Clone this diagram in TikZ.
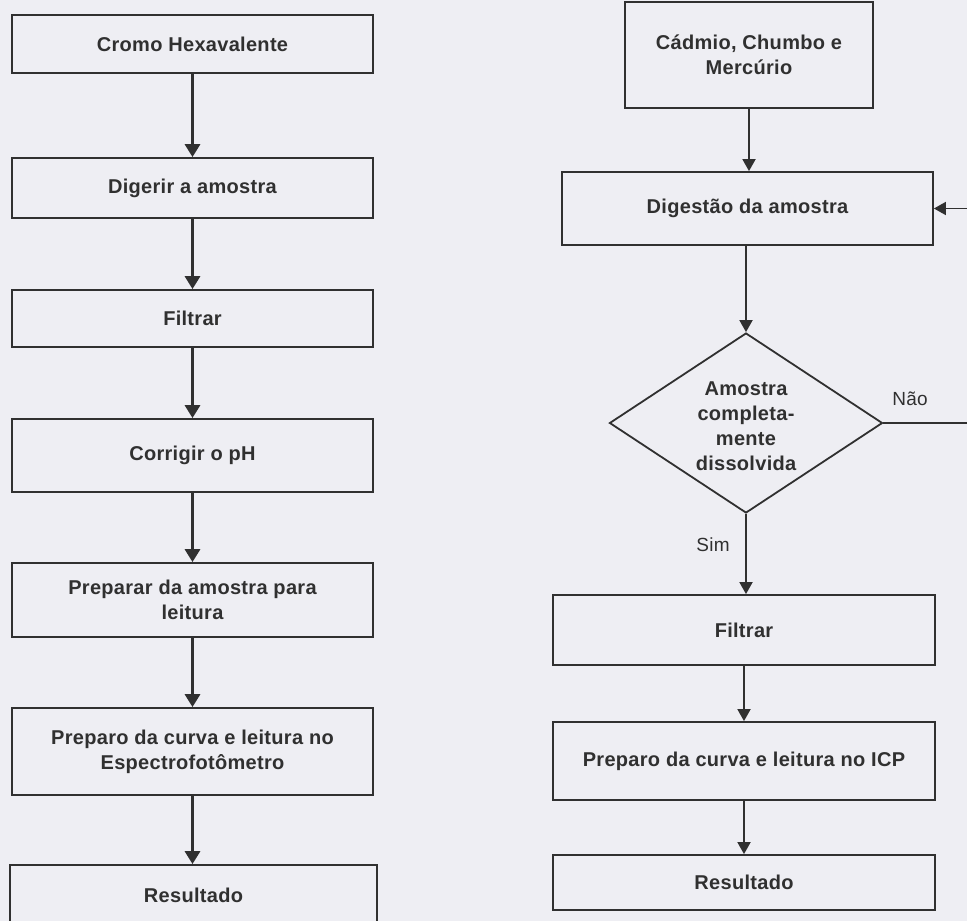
\documentclass[tikz,border=0pt]{standalone}
\usepackage{fontspec}
\setmainfont{Liberation Sans}[LetterSpace=1.5]
\usetikzlibrary{arrows.meta,shapes.geometric}
\definecolor{bg}{HTML}{EEEEF3}
\definecolor{ink}{HTML}{303030}
\begin{document}
\begin{tikzpicture}[x=1pt,y=-1pt,
  box/.style={draw=ink, line width=1.8pt, rectangle, inner sep=0pt, align=center,
    text=ink, font=\bfseries\fontsize{20}{25}\selectfont},
  thickarrow/.style={draw=ink, line width=3.5pt, -{Triangle[width=15pt,length=13pt]}},
  thinarrow/.style={draw=ink, line width=1.8pt, -{Triangle[width=13pt,length=12pt]}},
  lbl/.style={text=ink, inner sep=0pt, font=\fontsize{19}{25}\selectfont}]
\useasboundingbox (0,0) rectangle (967,921);
\fill[bg] (0,0) rectangle (967,921);
\clip (0,0) rectangle (967,921);

% left column
\node[box, minimum width=361pt, minimum height=58pt] (L1) at (192.5,44) {Cromo Hexavalente};
\node[box, minimum width=361pt, minimum height=60pt] (L2) at (192.5,188) {Digerir a amostra};
\node[box, minimum width=361pt, minimum height=57pt] (L3) at (192.5,318.5) {Filtrar};
\node[box, minimum width=361pt, minimum height=73pt] (L4) at (192.5,455.5) {Corrigir o pH};
\node[box, minimum width=361pt, minimum height=74pt] (L5) at (192.5,600) {Preparar da amostra para\\leitura};
\node[box, minimum width=361pt, minimum height=87pt] (L6) at (192.5,751.5) {Preparo da curva e leitura no\\Espectrofotômetro};
\node[box, minimum width=367pt, minimum height=60pt] (L7) at (193.5,895) {Resultado};

\draw[thickarrow] (L1.south) -- (L2.north);
\draw[thickarrow] (L2.south) -- (L3.north);
\draw[thickarrow] (L3.south) -- (L4.north);
\draw[thickarrow] (L4.south) -- (L5.north);
\draw[thickarrow] (L5.south) -- (L6.north);
\draw[thickarrow] (L6.south) -- (L6.south |- L7.north);

% right column
\node[box, minimum width=248pt, minimum height=106pt] (R1) at (749,55) {Cádmio, Chumbo e\\Mercúrio};
\node[box, minimum width=371pt, minimum height=73pt] (R2) at (747.5,208.5) {Digestão da amostra};
\node[diamond, draw=ink, line width=1.8pt, inner sep=0pt, minimum width=273pt, minimum height=180pt] (dia) at (746,423) {};
\node[align=center, text=ink, inner sep=0pt, font=\bfseries\fontsize{20}{25}\selectfont] (diatext) at (746,426) {Amostra\\completa-\\mente\\dissolvida};
\node[box, minimum width=382pt, minimum height=70pt] (R3) at (744,630) {Filtrar};
\node[box, minimum width=382pt, minimum height=78pt] (R4) at (744,761) {Preparo da curva e leitura no ICP};
\node[box, minimum width=382pt, minimum height=55pt] (R5) at (744,882.5) {Resultado};

\draw[thinarrow] (R1.south) -- (R1.south |- R2.north);
\draw[thinarrow] (R2.south -| dia.north) -- (dia.north);
\draw[thinarrow] (dia.south) -- (dia.south |- R3.north);
\draw[thinarrow] (R3.south) -- (R4.north);
\draw[thinarrow] (R4.south) -- (R5.north);
\coordinate (loop) at (990,423);
\draw[thinarrow] (dia.east) -- (loop) |- (R2.east);

\node[lbl] (sim) at (713,545) {Sim};
\node[lbl] (nao) at (910,399) {Não};
\end{tikzpicture}
\end{document}
